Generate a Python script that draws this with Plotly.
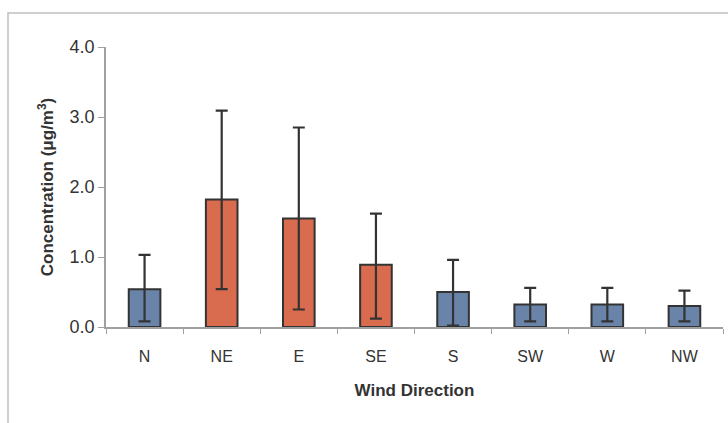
import plotly.graph_objects as go

directions = ["N", "NE", "E", "SE", "S", "SW", "W", "NW"]
mean_conc = [0.54, 1.82, 1.55, 0.89, 0.50, 0.32, 0.32, 0.30]
upper_conc = [1.03, 3.09, 2.85, 1.62, 0.96, 0.56, 0.56, 0.52]
lower_conc = [0.08, 0.54, 0.25, 0.12, 0.02, 0.08, 0.08, 0.08]
bar_colors = ["#6a83a9", "#d96b4e", "#d96b4e", "#d96b4e", "#6a83a9", "#6a83a9", "#6a83a9", "#6a83a9"]
y_ticks = [0, 1, 2, 3, 4]
y_tick_labels = ["0.0", "1.0", "2.0", "3.0", "4.0"]

err_plus = [u - m for u, m in zip(upper_conc, mean_conc)]
err_minus = [m - l for m, l in zip(mean_conc, lower_conc)]

fig = go.Figure()
fig.add_trace(go.Bar(
    x=directions, y=mean_conc,
    marker=dict(color=bar_colors, line=dict(color="#333333", width=2)),
    width=0.41,
    error_y=dict(type="data", symmetric=False, array=err_plus, arrayminus=err_minus,
                 color="#333333", thickness=2.2, width=6),
))

fig.update_layout(
    width=728, height=423,
    margin=dict(l=106, r=5, t=47, b=96),
    paper_bgcolor="white", plot_bgcolor="white",
    showlegend=False,
    font=dict(family="Liberation Sans, Arial, sans-serif", color="#333333"),
    xaxis=dict(
        showline=True, linecolor="#a0a0a0", linewidth=1.5,
        ticks="outside", tickcolor="#a0a0a0", ticklen=5, tickson="boundaries",
        ticklabelstandoff=14,
        tickfont=dict(size=16, color="#333333"),
        title=dict(text="<b>Wind Direction</b>", font=dict(size=17, color="#333333"), standoff=20),
        showgrid=False,
    ),
    yaxis=dict(
        range=[0, 4], tickvals=y_ticks, ticktext=y_tick_labels,
        showline=True, linecolor="#a0a0a0", linewidth=1.5,
        ticks="outside", tickcolor="#a0a0a0", ticklen=6,
        tickfont=dict(size=18, color="#333333"),
        title=dict(text="<b>Concentration (μg/m<sup>3</sup>)</b>", font=dict(size=17, color="#333333"), standoff=12),
        showgrid=False, zeroline=False,
    ),
    shapes=[dict(type="rect", xref="paper", yref="paper",
                 x0=-98/617, x1=1.2, y0=-0.6, y1=1 + 34/280,
                 line=dict(color="#c0c0c0", width=1.5), fillcolor="rgba(0,0,0,0)", layer="below")],
)

fig.write_html("out.html", config={"displayModeBar": False},
               post_script="document.body.style.margin='0';")
